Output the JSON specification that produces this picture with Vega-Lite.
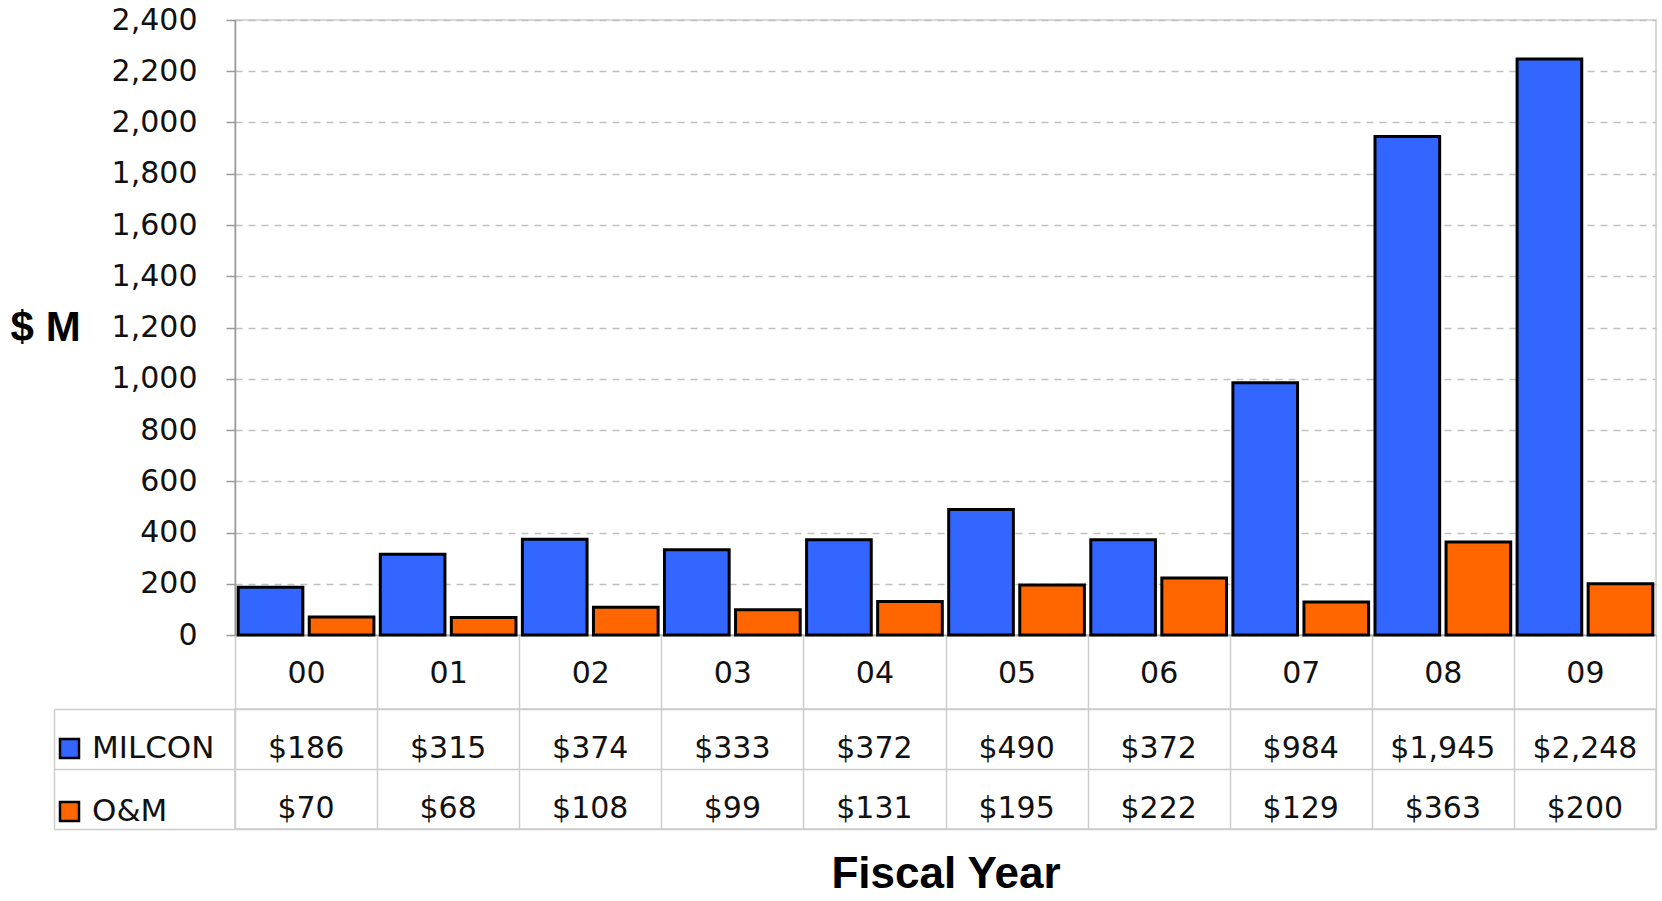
{
  "$schema": "https://vega.github.io/schema/vega-lite/v6.json",
  "autosize": {"type": "pad"},
  "padding": {"left": 9, "top": 4, "right": 5, "bottom": 5},
  "background": "white",
  "config": {"font": "DejaVu Sans", "view": {"stroke": "#cccccc", "strokeWidth": 1.5}},
  "spacing": 74,
  "bounds": "flush",
  "datasets": {
    "d": [
      {"year": "00", "series": "MILCON", "value": 186},
      {"year": "01", "series": "MILCON", "value": 315},
      {"year": "02", "series": "MILCON", "value": 374},
      {"year": "03", "series": "MILCON", "value": 333},
      {"year": "04", "series": "MILCON", "value": 372},
      {"year": "05", "series": "MILCON", "value": 490},
      {"year": "06", "series": "MILCON", "value": 372},
      {"year": "07", "series": "MILCON", "value": 984},
      {"year": "08", "series": "MILCON", "value": 1945},
      {"year": "09", "series": "MILCON", "value": 2248},
      {"year": "00", "series": "O&M", "value": 70},
      {"year": "01", "series": "O&M", "value": 68},
      {"year": "02", "series": "O&M", "value": 108},
      {"year": "03", "series": "O&M", "value": 99},
      {"year": "04", "series": "O&M", "value": 131},
      {"year": "05", "series": "O&M", "value": 195},
      {"year": "06", "series": "O&M", "value": 222},
      {"year": "07", "series": "O&M", "value": 129},
      {"year": "08", "series": "O&M", "value": 363},
      {"year": "09", "series": "O&M", "value": 200}
    ]
  },
  "vconcat": [
    {
      "width": 1421,
      "height": 615,
      "data": {"name": "d"},
      "mark": {"type": "bar", "stroke": "black", "strokeWidth": 3},
      "encoding": {
        "x": {
          "field": "year", "type": "nominal",
          "scale": {"paddingInner": 0, "paddingOuter": 0},
          "axis": {
            "title": null, "labelAngle": 0, "tickBand": "extent", "tickSize": 74,
            "tickColor": "#cccccc", "tickWidth": 1.5, "domainColor": "#aaaaaa", "domainWidth": 1.5,
            "labelFontSize": 30, "labelColor": "#111111", "labelBaseline": "alphabetic", "labelPadding": -27
          }
        },
        "xOffset": {
          "field": "series", "type": "nominal",
          "scale": {"domain": ["MILCON", "O&M"], "paddingInner": 0.09, "paddingOuter": 0.045}
        },
        "y": {
          "field": "value", "type": "quantitative",
          "scale": {"domain": [0, 2400], "nice": false},
          "axis": {
            "values": [0, 200, 400, 600, 800, 1000, 1200, 1400, 1600, 1800, 2000, 2200, 2400],
            "format": ",.0f",
            "title": "$ M", "titleAngle": 0, "titleFontSize": 42, "titleFont": "Liberation Sans",
            "titleFontWeight": "bold", "titleColor": "black", "titleAlign": "right", "titleBaseline": "middle",
            "titlePadding": 31,
            "labelFontSize": 30, "labelColor": "#111111", "labelPadding": 29,
            "tickSize": 9, "tickColor": "#999999", "tickWidth": 1.5, "domainColor": "#999999", "domainWidth": 1.5,
            "gridDash": [7, 6], "gridColor": "#c0c0c0", "gridWidth": 1.5
          }
        },
        "color": {
          "field": "series", "type": "nominal",
          "scale": {"domain": ["MILCON", "O&M"], "range": ["#3366FF", "#FF6600"]},
          "legend": {
            "orient": "none", "legendX": -181, "legendY": 713, "title": null,
            "symbolType": "square", "symbolSize": 361, "symbolStrokeColor": "black",
            "symbolStrokeWidth": 2.5, "symbolOpacity": 1,
            "labelFontSize": 31, "labelOffset": 7, "rowPadding": 31, "padding": 0, "labelColor": "#111111"
          }
        }
      }
    },
    {
      "width": 1421,
      "height": 120,
      "data": {"name": "d"},
      "mark": {"type": "text", "fontSize": 30, "baseline": "alphabetic", "color": "#111111"},
      "encoding": {
        "x": {
          "field": "year", "type": "nominal",
          "scale": {"paddingInner": 0, "paddingOuter": 0},
          "axis": {
            "title": "Fiscal Year", "labels": false, "ticks": false, "domain": false,
            "grid": true, "tickBand": "extent", "gridColor": "#cccccc", "gridWidth": 1.5,
            "titleFont": "Liberation Sans", "titleFontSize": 44, "titleFontWeight": "bold",
            "titleColor": "black", "titlePadding": 23
          }
        },
        "y": {
          "field": "series", "type": "nominal",
          "scale": {"domain": ["MILCON", "O&M"], "paddingInner": 0, "paddingOuter": 0},
          "bandPosition": 0.82,
          "axis": {
            "title": null, "labels": false, "tickBand": "extent", "grid": true,
            "gridColor": "#cccccc", "gridWidth": 1.5,
            "tickSize": -181, "offset": 181, "tickColor": "#cccccc", "tickWidth": 1.5,
            "domainColor": "#cccccc", "domainWidth": 1.5
          }
        },
        "text": {"field": "value", "type": "quantitative", "format": "$,.0f"}
      }
    }
  ]
}
